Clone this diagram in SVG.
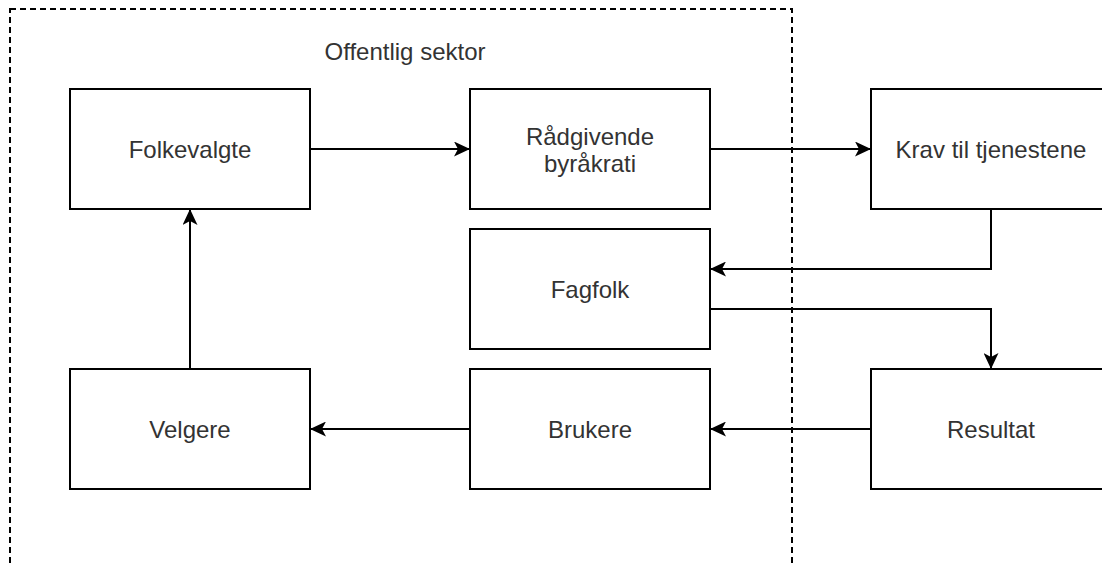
<svg xmlns="http://www.w3.org/2000/svg" width="1102" height="567" viewBox="0 0 1102 567">
<style>
.box{fill:#fff;stroke:#000;stroke-width:2}
.lbl{font-family:"Liberation Sans",Arial,sans-serif;font-size:24px;fill:#333;text-anchor:middle}
.edge{fill:none;stroke:#000;stroke-width:2;marker-end:url(#arr)}
</style>
<defs>
<marker id="arr" markerUnits="userSpaceOnUse" markerWidth="17" markerHeight="15" refX="16" refY="7.5" orient="auto" viewBox="0 0 17 15">
<path d="M0,0 L16,7.5 L0,15 L4,7.5 Z" fill="#000"/>
</marker>
</defs>
<rect width="1102" height="567" fill="#fff"/>
<g id="sector">
<rect x="10" y="9" width="782" height="620" fill="none" stroke="#000" stroke-width="2" stroke-dasharray="6 4"/>
<text class="lbl" x="405" y="60">Offentlig sektor</text>
</g>
<g id="folkevalgte"><rect class="box" x="70" y="89" width="240" height="120"/><text class="lbl" x="190" y="158">Folkevalgte</text></g>
<g id="radgivende"><rect class="box" x="470" y="89" width="240" height="120"/><text class="lbl" x="590" y="145">Rådgivende</text><text class="lbl" x="590" y="172">byråkrati</text></g>
<g id="krav"><rect class="box" x="871" y="89" width="240" height="120"/><text class="lbl" x="991" y="158">Krav til tjenestene</text></g>
<g id="fagfolk"><rect class="box" x="470" y="229" width="240" height="120"/><text class="lbl" x="590" y="298">Fagfolk</text></g>
<g id="velgere"><rect class="box" x="70" y="369" width="240" height="120"/><text class="lbl" x="190" y="438">Velgere</text></g>
<g id="brukere"><rect class="box" x="470" y="369" width="240" height="120"/><text class="lbl" x="590" y="438">Brukere</text></g>
<g id="resultat"><rect class="box" x="871" y="369" width="240" height="120"/><text class="lbl" x="991" y="438">Resultat</text></g>
<g id="connectors">
<path class="edge" d="M310,149 L470,149"/>
<path class="edge" d="M710,149 L871,149"/>
<path class="edge" d="M991,209 L991,269 L710,269"/>
<path class="edge" d="M710,309 L991,309 L991,369"/>
<path class="edge" d="M871,429 L710,429"/>
<path class="edge" d="M470,429 L310,429"/>
<path class="edge" d="M190,369 L190,209"/>
</g>
</svg>
